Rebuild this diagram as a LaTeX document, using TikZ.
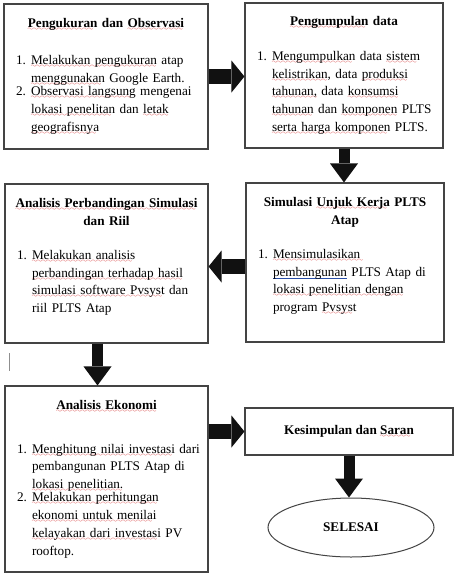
\documentclass[tikz,border=0pt]{standalone}
\usepackage{fontspec}
\setmainfont{Liberation Serif}
\usetikzlibrary{arrows.meta,positioning,shapes.geometric}
\definecolor{Ink}{HTML}{111111}
\definecolor{Frame}{HTML}{444444}
\definecolor{Spell}{HTML}{D42A2A}
\definecolor{Grammar}{HTML}{2A4FA8}
\font\wavefont=lasy6
% spell-check marks under words
\newcommand{\sq}[1]{\leavevmode\setbox0\hbox{#1}\rlap{\raisebox{-3pt}{\hbox to \wd0{\color{Spell}\leaders\hbox{\wavefont\char58}\hfill}}}\box0\relax}
\newcommand{\gq}[1]{\leavevmode\setbox0\hbox{#1}\rlap{\color{Grammar}\rule[-2.8pt]{\wd0}{0.6pt}}\box0\relax}
% numbered item, lines split by \\
\newcommand{\litem}[2]{\par\noindent\makebox[18pt][l]{\hspace{3pt}#1.}\parbox[t]{\dimexpr\linewidth-10pt\relax}{\raggedright #2}\par}
\newcommand{\ttl}[1]{{\centering\bfseries #1\par}}
\tikzset{
  stage/.style={draw=Frame,fill=white,line width=1.1pt,align=left,inner xsep=9pt,inner ysep=4pt,font=\fontsize{13.2}{17.8}\selectfont},
  finish/.style={ellipse,draw=Frame,fill=white,line width=1pt,minimum width=166pt,minimum height=59pt,font=\fontsize{13.2}{17.8}\selectfont\bfseries},
  flowh/.style={draw=Ink,line width=15pt,-{Triangle[length=13pt,width=32pt,line width=0pt]}},
  flowv/.style={draw=Ink,line width=11pt,-{Triangle[length=19pt,width=28pt,line width=0pt]}}
}
\begin{document}
\begin{tikzpicture}[x=1pt,y=-1pt]
  \useasboundingbox[fill=white] (0,0) rectangle (456,582);
  \node[stage,text width=186pt,minimum height=145pt] (ukur) at (106,76.5) {%
    \ttl{\sq{Pengukuran} dan \sq{Observasi}}\vspace{19pt}
    \litem{1}{\sq{Melakukan pengukuran} atap\\ \sq{menggunakan} Google Earth.}
    \litem{2}{\sq{Observasi langsung} mengenai\\ \sq{lokasi penelitan} dan \sq{letak}\\ \sq{geografisnya}}};
  \node[stage,text width=180pt,minimum height=145pt] (kumpul) at (344,75.5) {%
    \ttl{\sq{Pengumpulan} data}\vspace{17pt}
    \litem{1}{\sq{Mengumpulkan} data \sq{sistem}\\ \sq{kelistrikan,} data \sq{produksi}\\ \sq{tahunan,} data \sq{konsumsi}\\ \sq{tahunan} dan \sq{komponen} PLTS\\ \sq{serta harga komponen} PLTS.}};
  \node[stage,text width=180pt,minimum height=159pt] (simul) at (345,262.5) {%
    \ttl{Simulasi \sq{Unjuk Kerja} PLTS\\ Atap}\vspace{16pt}
    \litem{1}{\sq{Mensimulasikan\ }\\ \gq{pembangunan} PLTS Atap di\\ \sq{lokasi penelitian dengan}\\ program \sq{Pvsyst}\\[-2pt]\mbox{}}};
  \node[stage,text width=185pt,minimum height=159pt] (banding) at (106.5,263.5) {%
    \ttl{\sq{Analisis Perbandingan Simulasi}\\ dan Riil}\vspace{16pt}
    \litem{1}{\sq{Melakukan analisis}\\ \sq{perbandingan terhadap hasil}\\ \sq{simulasi software Pvsyst} dan\\ riil PLTS Atap\\[-2pt]\mbox{}}};
  \node[stage,text width=185pt,minimum height=186pt] (ekonomi) at (106.5,479) {%
    \ttl{\sq{Analisis Ekonomi}}\vspace{26pt}
    \litem{1}{\sq{Menghitung nilai investasi} dari\\ pembangunan PLTS Atap di\\ \sq{lokasi penelitian.}}
    \litem{2}{\sq{Melakukan perhitungan}\\ \sq{ekonomi untuk menilai}\\ \sq{kelayakan dari investasi} PV\\ rooftop.}};
  \node[stage,align=center,minimum width=208pt,minimum height=47pt,font=\fontsize{13.2}{17.8}\selectfont\bfseries] (simpul) at (349,431.5) {Kesimpulan dan \sq{Saran}};
  \node[finish] (selesai) at (351,527.5) {SELESAI};
  % flow
  \draw[flowh] (ukur.east) -- (ukur.east -| kumpul.west);
  \draw[flowv] (kumpul.south) -- (kumpul.south |- simul.north);
  \draw[flowh] ([yshift=-4pt]simul.west) -- ([yshift=-4pt]simul.west -| banding.east);
  \draw[flowv] ([xshift=-9pt]banding.south) -- ([xshift=-9pt]banding.south |- ekonomi.north);
  \draw[flowh] (simpul.west -| ekonomi.east) -- (simpul.west);
  \draw[flowv] (simpul.south) -- (simpul.south |- selesai.north);
  \draw[Frame!60,line width=.6pt] (9.5,353) -- (9.5,371);
\end{tikzpicture}
\end{document}
